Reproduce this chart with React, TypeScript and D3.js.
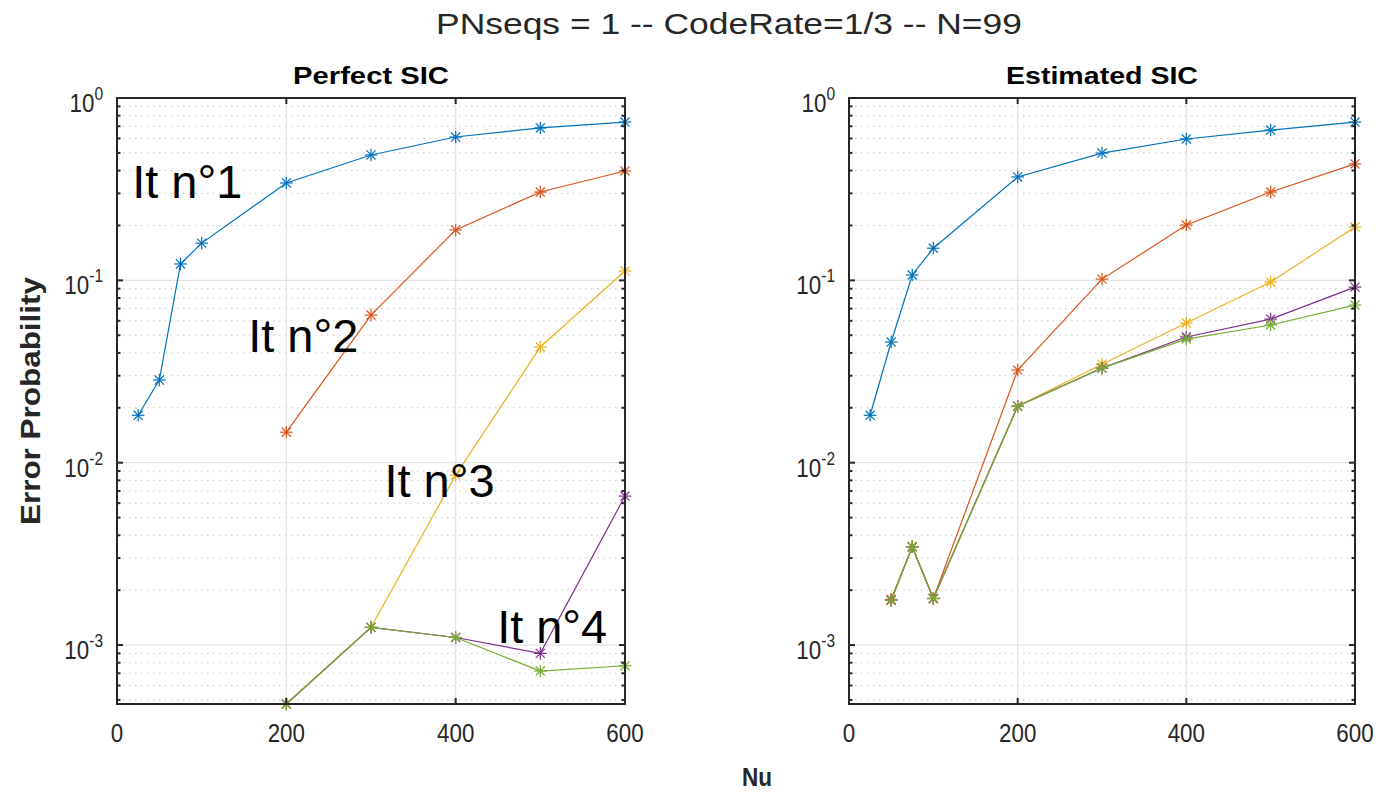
import React from "react";
import * as d3 from "d3";

// ---------- data ----------
const nuAll = [25, 50, 75, 100, 200, 300, 400, 500, 600];
const nuHigh = [200, 300, 400, 500, 600];
const nuEst = [50, 75, 100, 200, 300, 400, 500, 600];

const perfectIt1 = [0.0182, 0.0284, 0.123, 0.16, 0.342, 0.487, 0.611, 0.685, 0.738];
const perfectIt2 = [0.0147, 0.0645, 0.189, 0.305, 0.398];
const perfectIt3 = [0.000475, 0.00125, 0.00855, 0.0431, 0.1125];
const perfectIt4 = [0.000475, 0.00125, 0.0011, 0.0009, 0.00656];
const perfectIt5 = [0.000475, 0.00125, 0.0011, 0.00072, 0.00077];

const estIt1 = [0.0182, 0.0459, 0.107, 0.15, 0.369, 0.499, 0.596, 0.667, 0.738];
const estIt2 = [0.00178, 0.00346, 0.0018, 0.0322, 0.1016, 0.201, 0.305, 0.435];
const estIt3 = [0.00176, 0.00346, 0.0018, 0.0204, 0.0347, 0.0583, 0.098, 0.196];
const estIt4 = [0.00176, 0.00346, 0.0018, 0.0204, 0.033, 0.0489, 0.0613, 0.0918];
const estIt5 = [0.00176, 0.00346, 0.0018, 0.0204, 0.033, 0.0476, 0.0569, 0.0732];

const xTicks = [0, 200, 400, 600];
const yDecades = [-3, -2, -1, 0];
const colors = ["#0072BD", "#D95319", "#EDB120", "#7E2F8E", "#77AC30"];

const mainTitle = "PNseqs = 1 -- CodeRate=1/3 -- N=99";
const panelTitles = ["Perfect SIC", "Estimated SIC"];
const xLabel = "Nu";
const yLabel = "Error Probability";
const annotations = [
  { text: "It n°1", nu: 18, p: 0.283 },
  { text: "It n°2", nu: 155, p: 0.0405 },
  { text: "It n°3", nu: 316, p: 0.0065 },
  { text: "It n°4", nu: 449, p: 0.00102 },
];

const FONT = "'Liberation Sans', Arial, Helvetica, sans-serif";
const AX = "#262626";
const SX = 0.86;

type Series = { x: number[]; y: number[] };

function Star({ cx, cy, color }: { cx: number; cy: number; color: string }) {
  const r = 6.3;
  const d = r * 0.72;
  return (
    <g stroke={color} strokeWidth={1.2}>
      <line x1={cx - r} y1={cy} x2={cx + r} y2={cy} />
      <line x1={cx} y1={cy - r} x2={cx} y2={cy + r} />
      <line x1={cx - d} y1={cy - d} x2={cx + d} y2={cy + d} />
      <line x1={cx - d} y1={cy + d} x2={cx + d} y2={cy - d} />
    </g>
  );
}

function Panel({ left, right, title, titleW, series, showAnn }: { left: number; right: number; title: string; titleW: number; series: Series[]; showAnn: boolean }) {
  const top = 98;
  const bottom = 704;
  const x = d3.scaleLinear().domain([0, 600]).range([left, right]);
  const y = d3.scaleLog().domain([4.75e-4, 1]).range([bottom, top]);
  const minor: number[] = [];
  for (const e of [-4, -3, -2, -1]) {
    for (let k = 2; k <= 9; k++) {
      const v = k * Math.pow(10, e);
      if (v > 4.75e-4 && v < 1) minor.push(v);
    }
  }
  const line = d3.line<[number, number]>().x((d) => x(d[0])).y((d) => y(d[1]));
  return (
    <g>
      {minor.map((v, i) => (
        <line key={"mg" + i} x1={left} x2={right} y1={y(v)} y2={y(v)} stroke="#c8c8c8" strokeWidth={1} strokeDasharray="1.5,4.5" />
      ))}
      {yDecades.map((e) => (
        <line key={"yg" + e} x1={left} x2={right} y1={y(Math.pow(10, e))} y2={y(Math.pow(10, e))} stroke="#e3e3e3" strokeWidth={1.2} />
      ))}
      {xTicks.map((t) => (
        <line key={"xg" + t} x1={x(t)} x2={x(t)} y1={top} y2={bottom} stroke="#e3e3e3" strokeWidth={1.2} />
      ))}
      {series.map((s, i) => {
        const pts = s.x.map((v, j) => [v, s.y[j]] as [number, number]);
        return (
          <g key={"s" + i}>
            <path d={line(pts) || ""} fill="none" stroke={colors[i]} strokeWidth={1.2} />
            {pts.map((p, j) => (
              <Star key={j} cx={x(p[0])} cy={y(p[1])} color={colors[i]} />
            ))}
          </g>
        );
      })}
      <rect x={left} y={top} width={right - left} height={bottom - top} fill="none" stroke={AX} strokeWidth={2} />
      {xTicks.map((t) => (
        <g key={"xt" + t}>
          <line x1={x(t)} x2={x(t)} y1={bottom} y2={bottom - 6} stroke={AX} strokeWidth={2} />
          <line x1={x(t)} x2={x(t)} y1={top} y2={top + 6} stroke={AX} strokeWidth={2} />
          <text transform={`translate(${x(t)},742) scale(${SX},1)`} textAnchor="middle" fontFamily={FONT} fontSize={26} fill={AX}>
            {t}
          </text>
        </g>
      ))}
      {yDecades.map((e) => (
        <g key={"yt" + e}>
          <line x1={left} x2={left + 6} y1={y(Math.pow(10, e))} y2={y(Math.pow(10, e))} stroke={AX} strokeWidth={2} />
          <line x1={right} x2={right - 6} y1={y(Math.pow(10, e))} y2={y(Math.pow(10, e))} stroke={AX} strokeWidth={2} />
          <text transform={`translate(${left - 14},${y(Math.pow(10, e)) + 14}) scale(${SX},1)`} textAnchor="end" fontFamily={FONT} fontSize={26} fill={AX}>
            10
            <tspan dy={-12} fontSize={18}>
              {e === 0 ? "0" : "-" + Math.abs(e)}
            </tspan>
          </text>
        </g>
      ))}
      {minor.map((v, i) => (
        <g key={"mt" + i}>
          <line x1={left} x2={left + 3.5} y1={y(v)} y2={y(v)} stroke={AX} strokeWidth={2} />
          <line x1={right} x2={right - 3.5} y1={y(v)} y2={y(v)} stroke={AX} strokeWidth={2} />
        </g>
      ))}
      <text x={(left + right) / 2} y={84} textAnchor="middle" fontFamily={FONT} fontSize={24} fontWeight="bold" fill="#000" textLength={titleW} lengthAdjust="spacingAndGlyphs">
        {title}
      </text>
      {showAnn &&
        annotations.map((a, i) => (
          <text key={"a" + i} x={x(a.nu)} y={y(a.p)} fontFamily={FONT} fontSize={47} fill="#000" textLength={110} lengthAdjust="spacingAndGlyphs">
            {a.text}
          </text>
        ))}
    </g>
  );
}

export default function App() {
  const leftSeries: Series[] = [
    { x: nuAll, y: perfectIt1 },
    { x: nuHigh, y: perfectIt2 },
    { x: nuHigh, y: perfectIt3 },
    { x: nuHigh, y: perfectIt4 },
    { x: nuHigh, y: perfectIt5 },
  ];
  const rightSeries: Series[] = [
    { x: nuAll, y: estIt1 },
    { x: nuEst, y: estIt2 },
    { x: nuEst, y: estIt3 },
    { x: nuEst, y: estIt4 },
    { x: nuEst, y: estIt5 },
  ];
  return (
    <svg width={1383} height={794} style={{ position: "absolute", left: 0, top: 0, background: "#fff" }}>
      <rect x={0} y={0} width={1383} height={794} fill="#fff" />
      <text x={729} y={34} textAnchor="middle" fontFamily={FONT} fontSize={29} fill={AX} textLength={586} lengthAdjust="spacingAndGlyphs">
        {mainTitle}
      </text>
      <Panel left={117} right={625} title={panelTitles[0]} titleW={156} series={leftSeries} showAnn={true} />
      <Panel left={849} right={1355} title={panelTitles[1]} titleW={192} series={rightSeries} showAnn={false} />
      <text x={757} y={786} textAnchor="middle" fontFamily={FONT} fontSize={26} fontWeight="bold" fill={AX} textLength={30} lengthAdjust="spacingAndGlyphs">
        {xLabel}
      </text>
      <text transform="translate(40,401) rotate(-90)" textAnchor="middle" fontFamily={FONT} fontSize={27} fontWeight="bold" fill={AX} textLength={248} lengthAdjust="spacingAndGlyphs">
        {yLabel}
      </text>
    </svg>
  );
}
